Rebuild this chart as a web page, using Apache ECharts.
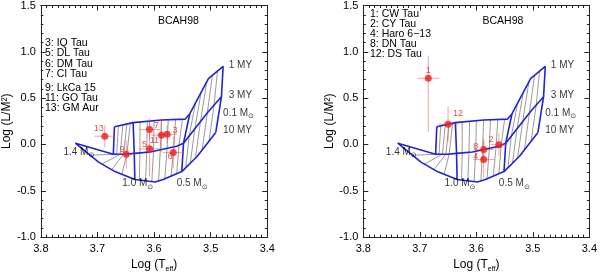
<!DOCTYPE html>
<html><head><meta charset="utf-8">
<script src="https://cdn.jsdelivr.net/npm/echarts@6/dist/echarts.min.js"></script>
<style>html,body{margin:0;padding:0;background:#fff}#c{width:600px;height:278px}</style>
</head><body><div id="c"></div>
<script>
// ---------- axes ----------
const xMin = 3.4, xMax = 3.8, xStep = 0.1;
const yMin = -1.0, yMax = 1.5, yStep = 0.5;
const xTickLabels = ['3.8', '3.7', '3.6', '3.5', '3.4'];
const yTickLabels = ['-1.0', '-0.5', '0.0', '0.5', '1.0', '1.5'];

// ---------- BCAH98 isochrones (Log Teff, Log L/M^2) ----------
const iso1My = [[3.670,0.192],[3.637,0.236],[3.587,0.264],[3.545,0.274],[3.537,0.329],[3.504,0.711],[3.478,0.844]];
const iso3My = [[3.672,-0.105],[3.651,-0.105],[3.635,-0.096],[3.607,-0.081],[3.560,-0.020],[3.548,0.014],[3.504,0.356],[3.481,0.516]];
const iso10My = [[3.739,0.014],[3.698,-0.191],[3.669,-0.293],[3.634,-0.378],[3.598,-0.405],[3.584,-0.378],[3.551,-0.293],[3.524,-0.130],[3.491,0.130]];

// ---------- labelled mass tracks ----------
const track14 = [[3.670,0.192],[3.672,-0.105],[3.739,0.014]];
const track10 = [[3.637,0.236],[3.635,-0.096],[3.634,-0.378]];
const track05 = [[3.537,0.329],[3.548,0.014],[3.551,-0.293]];
const track01 = [[3.478,0.844],[3.481,0.516],[3.491,0.130]];

// ---------- intermediate mass tracks (thin) ----------
const thinTracks = [
  [[3.663,0.201],[3.666,-0.105],[3.713,-0.116]],
  [[3.655,0.212],[3.660,-0.105],[3.692,-0.212]],
  [[3.648,0.221],[3.654,-0.105],[3.675,-0.272]],
  [[3.642,0.229],[3.648,-0.103],[3.657,-0.322]],
  [[3.625,0.243],[3.625,-0.091],[3.626,-0.384]],
  [[3.612,0.250],[3.613,-0.084],[3.615,-0.392]],
  [[3.600,0.257],[3.601,-0.073],[3.604,-0.400]],
  [[3.587,0.264],[3.589,-0.058],[3.592,-0.393]],
  [[3.575,0.267],[3.577,-0.042],[3.581,-0.370]],
  [[3.562,0.270],[3.565,-0.026],[3.570,-0.342]],
  [[3.550,0.273],[3.556,-0.009],[3.560,-0.316]],
  [[3.527,0.445],[3.538,0.092],[3.544,-0.251]],
  [[3.517,0.561],[3.528,0.169],[3.536,-0.202]],
  [[3.507,0.676],[3.518,0.247],[3.527,-0.148]],
  [[3.497,0.747],[3.506,0.340],[3.515,-0.059]],
  [[3.488,0.793],[3.494,0.426],[3.503,0.035]]
];

// ---------- stars, left panel ----------
const leftNames = ['13','7','11','3','5','6','9'];
const leftX     = [3.687,3.608,3.587,3.577,3.608,3.566,3.649];
const leftY     = [0.089,0.161,0.100,0.110,-0.047,-0.088,-0.105];
const leftXErr  = [0.018,0.018,0.018,0.018,0.018,0.018,0.018];
const leftYUp   = [0.12,0.12,0.18,0.10,0.30,0.17,0.15];
const leftYDown = [0.12,0.12,0.18,0.10,0.30,0.17,0.15];

// ---------- stars, right panel ----------
const rightNames = ['1','12','2','8','4'];
const rightX     = [3.685,3.650,3.560,3.587,3.587];
const rightY     = [0.714,0.219,-0.003,-0.054,-0.163];
const rightXErr  = [0.019,0.017,0.015,0.018,0.019];
const rightYUp   = [0.24,0.19,0.12,0.12,0.20];
const rightYDown = [0.58,0.19,0.12,0.12,0.20];

// ---------- texts ----------
const leftLegend = ['3: IQ Tau','5: DL Tau','6: DM Tau','7: CI Tau','9: LkCa 15','11: GO Tau','13: GM Aur'];
const rightLegend = ['1: CW Tau','2: CY Tau','4: Haro 6\u221213','8: DN Tau','12: DS Tau'];
const modelName = 'BCAH98';
const gridLabels = ['1 MY','3 MY','0.1 M','10 MY','1.4 M','1.0 M','0.5 M'];
const gridLabelSun = [false,false,true,false,true,true,true];
// anchor (left edge, vertical centre) of each grid label, data coordinates
const gridLabelAt = [[3.469,0.851],[3.469,0.527],[3.479,0.342],[3.479,0.151],[3.761,-0.081],[3.657,-0.423],[3.561,-0.423]];

// label offsets for star numbers (pixels, style only)
const leftLabelOff = [[-6,-8],[7,-4],[-7,5],[8,-4],[-5,-4],[-3,4],[-4,-5]];
const rightLabelOff = [[0,-8],[10,-11],[-8,-5],[-8,-3],[-8,-3]];

// ---------- build ----------
const FONT = '"Liberation Sans", Arial, sans-serif';
const BLUE = '#2323d2';
const RED = '#ee1c1c';
const AX = '#222';
const chart = echarts.init(document.getElementById('c'), null, {renderer:'canvas', width:600, height:278});

const gridDefs = [
  {left:40.7, top:4, width:226.6, height:245},
  {left:363.3, top:4, width:230, height:245}
];

const xAxes = [], yAxes = [];
gridDefs.forEach((g, gi) => {
  const xb = {gridIndex:gi, type:'value', min:xMin, max:xMax, interval:xStep, inverse:true,
    axisLine:{show:true, onZero:false, lineStyle:{color:AX, width:1}},
    axisTick:{show:true, inside:true, length:5, lineStyle:{color:AX, width:1}},
    minorTick:{show:true, splitNumber:10, length:2.5, lineStyle:{color:AX, width:1}},
    splitLine:{show:false}};
  xAxes.push(Object.assign({}, xb, {position:'bottom',
    axisLabel:{show:true, margin:6, fontSize:11, color:'#000', fontFamily:FONT,
      formatter: v => xTickLabels[Math.round((xMax - v) / xStep)]},
    name:'{a|Log (T}{s|eff}{a|)}', nameLocation:'middle', nameGap:19,
    nameTextStyle:{rich:{a:{fontSize:12, color:'#000', fontFamily:FONT, verticalAlign:'middle', lineHeight:16},
                          s:{fontSize:7, color:'#000', fontFamily:FONT, verticalAlign:'bottom', lineHeight:11}}}}));
  xAxes.push(Object.assign({}, xb, {position:'top', axisLabel:{show:false}}));
  const yb = {gridIndex:gi, type:'value', min:yMin, max:yMax, interval:yStep,
    axisLine:{show:true, onZero:false, lineStyle:{color:AX, width:1}},
    axisTick:{show:true, inside:true, length:5, lineStyle:{color:AX, width:1}},
    minorTick:{show:true, splitNumber:5, length:2.5, lineStyle:{color:AX, width:1}},
    splitLine:{show:false}};
  yAxes.push(Object.assign({}, yb, {position:'left',
    axisLabel:{show:true, margin:5, fontSize:11, color:'#000', fontFamily:FONT,
      formatter: v => yTickLabels[Math.round((v - yMin) / yStep)]},
    name:'Log (L/M\u00B2)', nameLocation:'middle', nameRotate:90, nameGap:26,
    nameTextStyle:{fontSize:12, color:'#000', fontFamily:FONT}}));
  yAxes.push(Object.assign({}, yb, {position:'right', axisLabel:{show:false}}));
});

const series = [];
function lineSeries(data, xi, color, width) {
  return {type:'line', xAxisIndex:xi, yAxisIndex:xi, data:data, symbol:'none', silent:true,
    animation:false, lineStyle:{color:color, width:width}, z:2};
}
const stars = [
  {names:leftNames, x:leftX, y:leftY, xe:leftXErr, yu:leftYUp, yd:leftYDown, off:leftLabelOff},
  {names:rightNames, x:rightX, y:rightY, xe:rightXErr, yu:rightYUp, yd:rightYDown, off:rightLabelOff}
];

[0, 1].forEach(gi => {
  const xi = gi * 2;
  thinTracks.forEach(t => series.push(lineSeries(t, xi, '#555', 0.6)));
  [iso1My, iso3My, iso10My, track14, track10, track05, track01].forEach(t =>
    series.push(lineSeries(t, xi, BLUE, 1.6)));
  const S = stars[gi];
  // error bars
  series.push({type:'custom', xAxisIndex:xi, yAxisIndex:xi, silent:true, animation:false, z:3,
    data: S.x.map((v, i) => [v, S.y[i], S.xe[i], S.yu[i], S.yd[i]]),
    renderItem: (params, api) => {
      const x = api.value(0), y = api.value(1), xe = api.value(2), yu = api.value(3), yd = api.value(4);
      const a = api.coord([x - xe, y]), b = api.coord([x + xe, y]);
      const t = api.coord([x, y + yu]), d = api.coord([x, y - yd]);
      const st = {stroke:'rgba(238,70,70,0.5)', lineWidth:1};
      return {type:'group', children:[
        {type:'line', shape:{x1:a[0], y1:a[1], x2:b[0], y2:b[1]}, style:st},
        {type:'line', shape:{x1:t[0], y1:t[1], x2:d[0], y2:d[1]}, style:st}
      ]};
    }});
  // points
  series.push({type:'scatter', xAxisIndex:xi, yAxisIndex:xi, silent:true, animation:false, z:4,
    symbolSize:7, itemStyle:{color:RED},
    data: S.x.map((v, i) => ({name:S.names[i], value:[v, S.y[i]],
      label:{show:true, position:'inside', offset:S.off[i], formatter:S.names[i],
        fontSize:9, color:RED, fontFamily:FONT}}))});
  // grid annotations
  series.push({type:'scatter', xAxisIndex:xi, yAxisIndex:xi, silent:true, animation:false, z:5,
    symbolSize:1, itemStyle:{color:'rgba(0,0,0,0)'},
    data: gridLabels.map((s, i) => ({value:gridLabelAt[i],
      label:{show:true, position:'right', distance:0,
        formatter: gridLabelSun[i] ? '{m|' + s + '}{s|\u2299}' : '{m|' + s + '}',
        rich:{m:{fontSize:10, color:'#000', fontFamily:FONT, verticalAlign:'middle', lineHeight:14},
              s:{fontSize:7, color:'#000', fontFamily:'DejaVu Sans', verticalAlign:'bottom', lineHeight:9}}}}))});
});

const graphics = [];
const leftLineY = [44, 54, 64.5, 74.5, 89, 99, 109];
leftLegend.forEach((s, i) => graphics.push({type:'text', left:45, top:leftLineY[i] - 6,
  style:{text:s, fontSize:10.5, fill:'#000', fontFamily:FONT}}));
const rightLineY = [15, 25, 35, 45, 55];
rightLegend.forEach((s, i) => graphics.push({type:'text', left:370, top:rightLineY[i] - 6,
  style:{text:s, fontSize:10.5, fill:'#000', fontFamily:FONT}}));
graphics.push({type:'text', left:158, top:16, style:{text:modelName, fontSize:10.5, fill:'#000', fontFamily:FONT}});
graphics.push({type:'text', left:482.5, top:16, style:{text:modelName, fontSize:10.5, fill:'#000', fontFamily:FONT}});

chart.setOption({
  animation:false,
  backgroundColor:'#fff',
  grid: gridDefs,
  xAxis: xAxes,
  yAxis: yAxes,
  series: series,
  graphic: graphics
});
</script></body></html>
